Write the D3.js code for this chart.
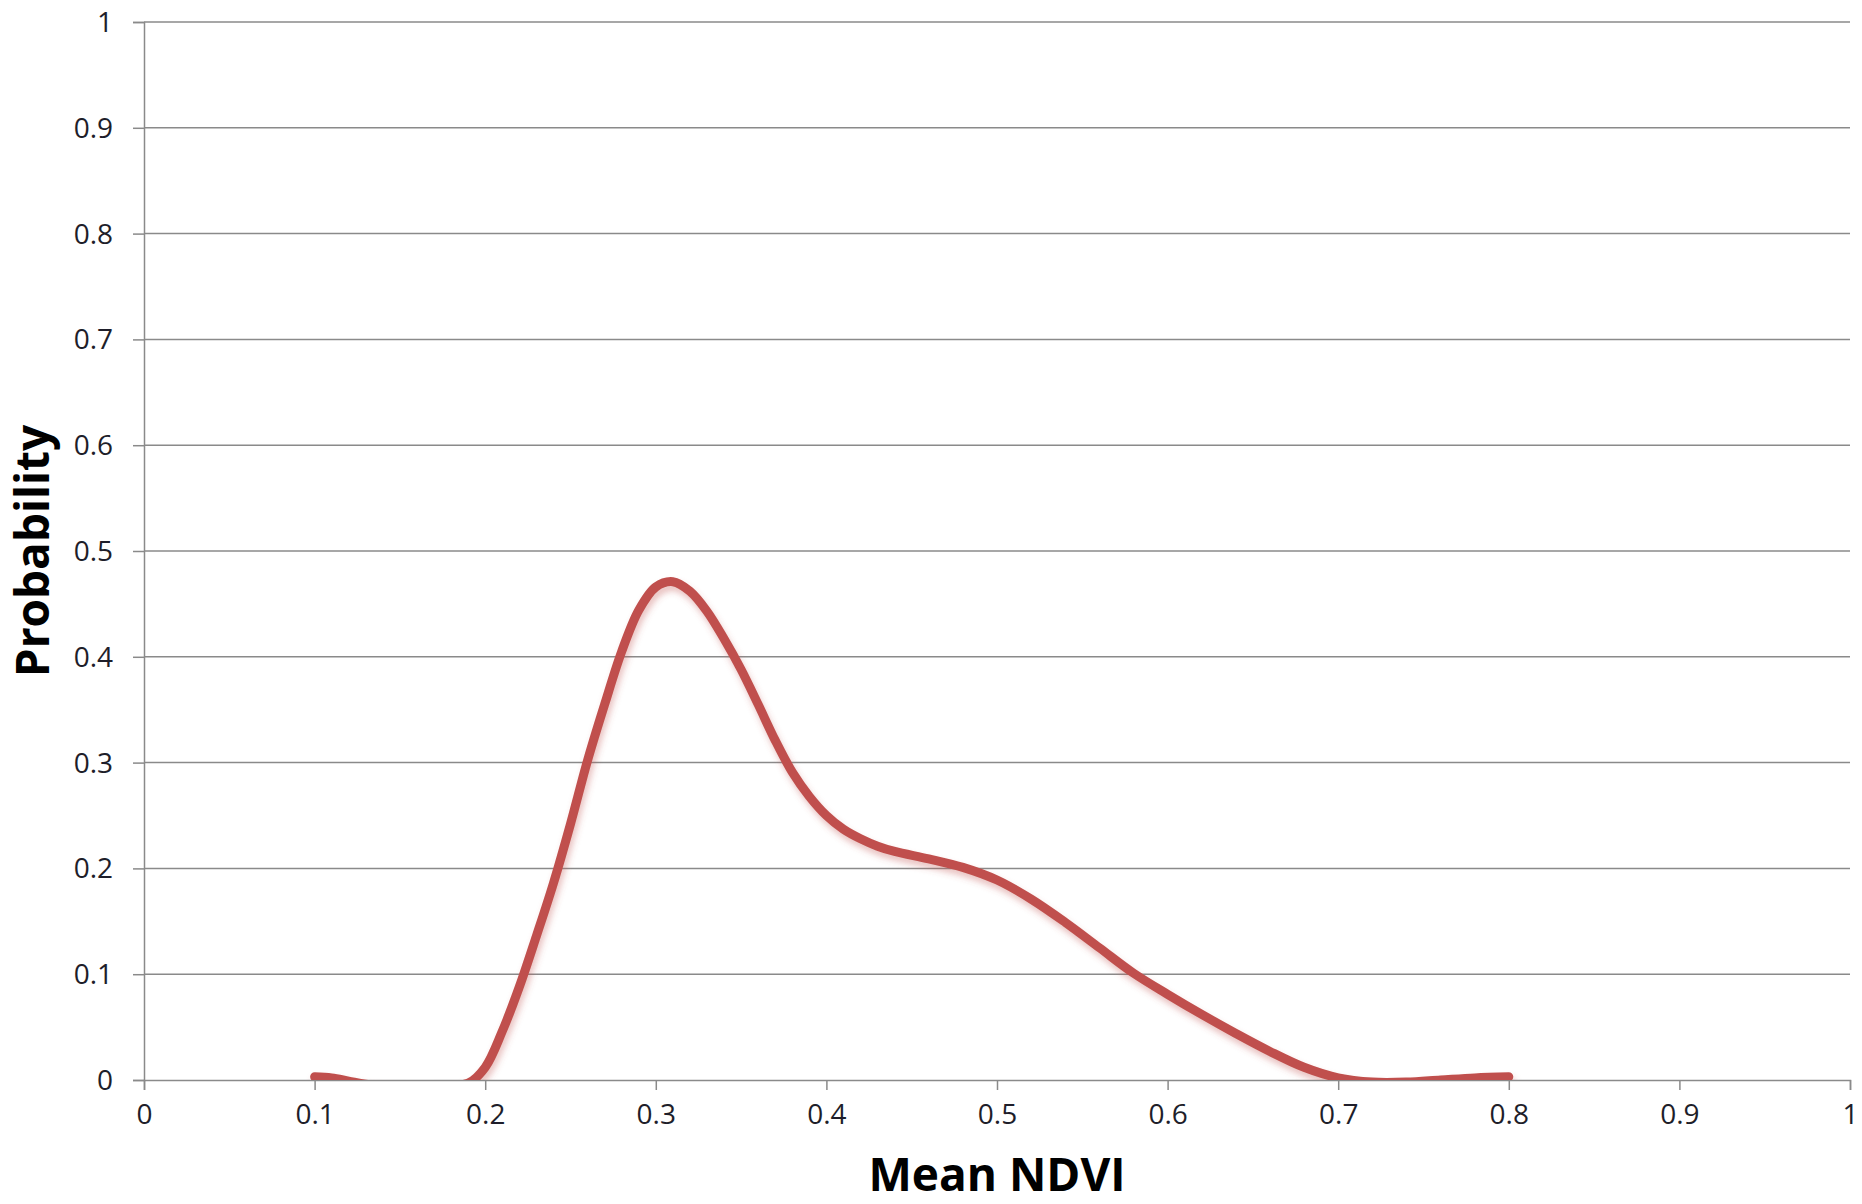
<!DOCTYPE html>
<html>
<head>
<meta charset="utf-8">
<script src="https://cdn.jsdelivr.net/npm/d3@7"></script>
<style>
  html, body { margin:0; padding:0; background:#fff; }
  .tick text { font-family: "Open Sans", sans-serif; font-size:28px; fill:#1e1e2a; }
  .title { font-family: "Open Sans", sans-serif; font-weight:bold; font-size:46px; fill:#000; }
</style>
</head>
<body>
<div id="canvas"></div>
<script>
// Mean NDVI values (x) and probability (y)
var ndvi = [0.10, 0.11, 0.12, 0.13, 0.15, 0.17, 0.19, 0.20, 0.21, 0.22, 0.23, 0.24, 0.25, 0.26,
            0.27, 0.28, 0.29, 0.30, 0.31, 0.32, 0.33, 0.34, 0.35, 0.36, 0.37, 0.38, 0.39, 0.40,
            0.41, 0.42, 0.43, 0.44, 0.46, 0.48, 0.50, 0.52, 0.54, 0.56, 0.58, 0.60, 0.62, 0.64,
            0.66, 0.68, 0.70, 0.72, 0.74, 0.76, 0.78, 0.80];
var prob = [0.003, 0.002, -0.001, -0.004, -0.006, -0.006, -0.003, 0.012, 0.046, 0.088, 0.136, 0.186, 0.242, 0.302,
            0.355, 0.405, 0.444, 0.466, 0.471, 0.462, 0.443, 0.417, 0.388, 0.355, 0.321, 0.291, 0.268, 0.250,
            0.237, 0.228, 0.221, 0.216, 0.209, 0.201, 0.189, 0.171, 0.149, 0.125, 0.101, 0.081, 0.062, 0.044,
            0.027, 0.012, 0.002, -0.002, -0.002, 0.000, 0.002, 0.003];

var xTicks = [0, 0.1, 0.2, 0.3, 0.4, 0.5, 0.6, 0.7, 0.8, 0.9, 1];
var yTicks = [0, 0.1, 0.2, 0.3, 0.4, 0.5, 0.6, 0.7, 0.8, 0.9, 1];

var W = 1862, H = 1204;
var m = {t:22, r:12, b:124, l:144},
    w = W - m.l - m.r,
    h = H - m.t - m.b;

var svg = d3.select('#canvas')
    .append('svg')
    .attr('width', W)
    .attr('height', H);

var plot = svg.append('g').attr('class','plot')
    .attr('transform','translate('+ m.l+','+ m.t+')');

var scaleX = d3.scaleLinear().domain([0,1]).range([0,w]);
var scaleY = d3.scaleLinear().domain([0,1]).range([h,0]);

// shadow + clip
var defs = svg.append('defs');
defs.append('clipPath').attr('id','clip')
    .append('rect').attr('x',0).attr('y',0).attr('width',w).attr('height',h);
var f = defs.append('filter').attr('id','shadow')
    .attr('x','-5%').attr('y','-5%').attr('width','110%').attr('height','115%');
f.append('feGaussianBlur').attr('in','SourceAlpha').attr('stdDeviation',3).attr('result','b');
f.append('feOffset').attr('in','b').attr('dx',2).attr('dy',5).attr('result','o');
f.append('feFlood').attr('flood-color','#c0504d').attr('flood-opacity',0.35);
f.append('feComposite').attr('in2','o').attr('operator','in').attr('result','s');
var fm = f.append('feMerge');
fm.append('feMergeNode').attr('in','s');
fm.append('feMergeNode').attr('in','SourceGraphic');

//gridlines
plot.selectAll('.grid')
    .data(yTicks.filter(function(d){return d > 0;}))
    .enter()
    .append('line').attr('class','grid')
    .attr('x1',0).attr('x2',w)
    .attr('y1',function(d){return scaleY(d)})
    .attr('y2',function(d){return scaleY(d)})
    .style('stroke','#8a8a8a').style('stroke-width',1.5);

//axes
var axisX = d3.axisBottom(scaleX).tickValues(xTicks).tickSize(10).tickPadding(14)
    .tickFormat(function(d){return String(d)});
var axisY = d3.axisLeft(scaleY).tickValues(yTicks).tickSize(11).tickPadding(20)
    .tickFormat(function(d){return String(d)});

var gx = plot.append('g').attr('class','axis x')
    .attr('transform','translate(0,'+h+')')
    .call(axisX);
var gy = plot.append('g').attr('class','axis y')
    .call(axisY);

[gx, gy].forEach(function(g){
    g.select('.domain').style('stroke','#8a8a8a').style('stroke-width',1.5);
    g.selectAll('.tick line').style('stroke','#8a8a8a').style('stroke-width',1.5);
});
gy.selectAll('.tick text').attr('dy','0.34em');
gx.selectAll('.tick text').attr('dy','0.72em');

//curve
var pts = ndvi.map(function(d,i){ return {x:d, y:prob[i]}; });
var line = d3.line()
    .x(function(d){return scaleX(d.x)})
    .y(function(d){return scaleY(d.y)})
    .curve(d3.curveCatmullRom.alpha(0.5));

plot.append('g').attr('clip-path','url(#clip)')
    .append('path')
    .datum(pts)
    .attr('d', line)
    .attr('filter','url(#shadow)')
    .style('fill','none')
    .style('stroke','#c0504d')
    .style('stroke-width',9)
    .style('stroke-linecap','round')
    .style('stroke-linejoin','round');

//titles
svg.append('text').attr('class','title')
    .attr('x', m.l + w/2).attr('y', 1191)
    .attr('text-anchor','middle')
    .text('Mean NDVI');
svg.append('text').attr('class','title')
    .attr('transform','translate(49,'+(m.t + h/2)+') rotate(-90)')
    .attr('text-anchor','middle')
    .text('Probability');
</script>
</body>
</html>
